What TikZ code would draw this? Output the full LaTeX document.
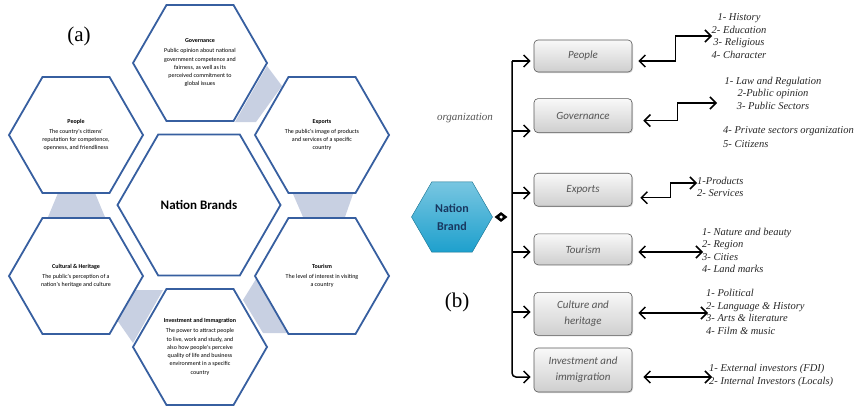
\documentclass[tikz,border=0pt]{standalone}
\usepackage{fontspec}
\setmainfont{Liberation Serif}
\newfontfamily\calfont{Carlito}
\usetikzlibrary{arrows.meta,positioning,shapes.geometric,shadows,calc}

\definecolor{hexline}{RGB}{55,95,160}
\definecolor{hexgap}{RGB}{200,208,226}
\definecolor{brandfill}{RGB}{30,160,205}
\definecolor{brandtext}{RGB}{25,55,95}
\definecolor{boxtext}{RGB}{85,85,85}

\begin{document}
\begin{tikzpicture}[x=1pt, y=-1pt,
    hexa/.style={draw=hexline, line width=1.8pt, fill=white, shape=regular polygon, regular polygon sides=6,
      minimum size=134pt, inner sep=1pt, align=center, font=\calfont\fontsize{6}{8.3}\selectfont},
    cat/.style={draw=gray!70!black, line width=0.6pt, rounded corners=4pt, top color=gray!5, bottom color=gray!38,
      drop shadow={opacity=0.3, shadow xshift=1pt, shadow yshift=-1pt}, minimum width=98pt, minimum height=32pt,
      align=center, font=\calfont\itshape\fontsize{11}{16}\selectfont, text=boxtext},
    items/.style={align=left, inner sep=0pt, font=\itshape\fontsize{10.5}{12.5}\selectfont, text=black!85},
    link/.style={line width=1.5pt, -{Straight Barb[length=6pt,width=12pt]}},
    both/.style={line width=1.5pt, {Straight Barb[length=6pt,width=12pt]}-{Straight Barb[length=6pt,width=12pt]}}]
  \useasboundingbox (0,0) rectangle (864,407);

  % (a) hexagon cluster
  \fill[hexgap] (267,66) -- (282,86) -- (256,122) -- (235,122) -- cycle;
  \fill[hexgap] (58,193) -- (95,193) -- (105,217) -- (48,217) -- cycle;
  \fill[hexgap] (293,194) -- (353,194) -- (345,217) -- (303,217) -- cycle;
  \fill[hexgap] (134,290) -- (163,290) -- (133,343) -- (117,320) -- cycle;
  \fill[hexgap] (256,279) -- (287,333) -- (263,333) -- (243,300) -- cycle;

  \node[hexa] (hgov) at (200,63) {\textbf{Governance}\\[1.5pt]Public opinion about national\\government competence and\\fairness, as well as its\\perceived commitment to\\global issues};
  \node[hexa] (hpeo) at (76,135) {\textbf{People}\\[1.5pt]The country's citizens'\\reputation for competence,\\openness, and friendliness};
  \node[hexa] (hexp) at (322,135) {\textbf{Exports}\\[1.5pt]The public's image of products\\and services of a specific\\country};
  \node[hexa, minimum size=163pt, font=\calfont\bfseries\fontsize{13}{15}\selectfont] (hnb) at (199,205) {Nation Brands};
  \node[hexa] (hcul) at (76,276) {\textbf{Cultural \& Heritage}\\[1.5pt]The public's perception of a\\nation's heritage and culture};
  \node[hexa] (htou) at (322,276) {\textbf{Tourism}\\[1.5pt]The level of interest in visiting\\a country};
  \node[hexa] (hinv) at (200,347) {\textbf{Investment and Immagration}\\[1.5pt]The power to attract people\\to live, work and study, and\\also how people's perceive\\quality of life and business\\environment in a specific\\country};

  \node[font=\fontsize{21}{24}\selectfont] (la) at (79,36) {(a)};

  % (b) tree
  \node[regular polygon, regular polygon sides=6, minimum size=81pt, draw=brandfill!70!black, top color=brandfill!60!white,
    bottom color=brandfill, text=brandtext, align=center, font=\calfont\bfseries\fontsize{12}{18}\selectfont] (nb) at (452,217) {Nation\\Brand};
  \node[diamond, fill=black, minimum width=13pt, minimum height=10pt, inner sep=0pt] (dm) at (501,217) {};
  \node[circle, fill=white, inner sep=0pt, minimum size=3.5pt] (dmc) at (dm) {};

  \node[font=\itshape\fontsize{11}{13}\selectfont, text=boxtext] (org) at (465,118) {organization};
  \node[font=\fontsize{21}{24}\selectfont] (lb) at (457,302) {(b)};

  \node[cat] (bpeo) at (583,56) {People};
  \node[cat, minimum height=34pt, below=26pt of bpeo] (bgov) {Governance};
  \node[cat, minimum height=33pt, below=40pt of bgov] (bexp) {Exports};
  \node[cat, minimum height=31pt, below=27pt of bexp] (btou) {Tourism};
  \node[cat, minimum height=43pt, below=27pt of btou] (bcul) {Culture and\\heritage};
  \node[cat, minimum height=44pt, below=12pt of bcul] (binv) {Investment and\\immigration};

  \coordinate (t1) at (512,61);
  \coordinate (t2) at (512,131);
  \coordinate (t3) at (512,193);
  \coordinate (t4) at (512,252);
  \coordinate (t5) at (512,312);
  \coordinate (t6) at (512,377);
  \draw[link, rounded corners=4pt, shorten >=3pt] (t1) |- (t6 -| binv.west);
  \foreach \t/\b in {t1/bpeo, t2/bgov, t3/bexp, t4/btou, t5/bcul}
    \draw[link, shorten >=3pt] (\t) -- (\t -| \b.west);

  % sub items
  \node[items, align=center] (l1) at (739,36) {1- History\\2- Education\\3- Religious\\4- Character};
  \node[items, align=center] (l2) at (773,93) {1- Law and Regulation\\2-Public opinion\\3- Public Sectors};
  \node[items, anchor=west, font=\itshape\fontsize{10.5}{14}\selectfont] (l2b) at (723,137) {4- Private sectors organization\\5- Citizens};
  \node[items, anchor=west] (l3) at (697,187) {1-Products\\2- Services};
  \node[items, anchor=west] (l4) at (702,250.5) {1- Nature and beauty\\2- Region\\3- Cities\\4- Land marks};
  \node[items, anchor=west] (l5) at (706,312) {1- Political\\2- Language \& History\\3- Arts \& literature\\4- Film \& music};
  \node[items, anchor=west] (l6) at (709,375.5) {1- External investors (FDI)\\2- Internal Investors (Locals)};

  \coordinate (e1) at (712,36);
  \coordinate (e2) at (717,103);
  \coordinate (e3) at (697,183);
  \coordinate (e4) at (703,252);
  \coordinate (e5) at (708,313);
  \coordinate (e6) at (712,377);
  \draw[both] ($(t1 -| bpeo.east)+(6,0)$) -- ++(37,0) |- (e1);
  \draw[both] ($(bgov.east)+(11,5)$) -- ++(34,0) |- (e2);
  \draw[both] ($(bexp.east)+(8,8)$) -- ++(30,0) |- (e3);
  \draw[both] ($(e4 -| btou.east)+(6,0)$) -- (e4);
  \draw[both] ($(e5 -| bcul.east)+(6,0)$) -- (e5);
  \draw[both] ($(e6 -| binv.east)+(11,0)$) -- (e6);
\end{tikzpicture}
\end{document}
